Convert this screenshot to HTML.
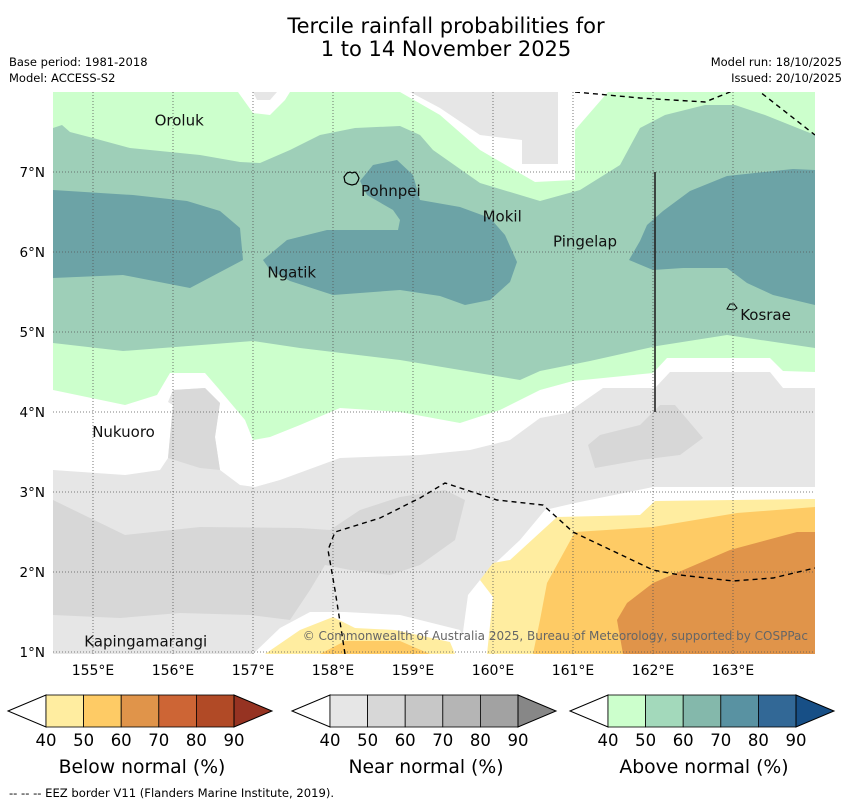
<!DOCTYPE html>
<html><head><meta charset="utf-8"><style>
body{margin:0;background:#fff;width:850px;height:804px;overflow:hidden;font-family:"DejaVu Sans","Liberation Sans",sans-serif}
svg{display:block}
</style></head><body>
<svg id="chart" width="850" height="804" viewBox="0 0 850 804" font-family="DejaVu Sans, Liberation Sans, sans-serif">
<text x="446" y="33" font-size="21" text-anchor="middle">Tercile rainfall probabilities for</text>
<text x="446" y="56" font-size="21" text-anchor="middle">1 to 14 November 2025</text>
<text x="9" y="66" font-size="11.5">Base period: 1981-2018</text>
<text x="9" y="82" font-size="11.5">Model: ACCESS-S2</text>
<text x="842" y="66" font-size="11.5" text-anchor="end">Model run: 18/10/2025</text>
<text x="842" y="82" font-size="11.5" text-anchor="end">Issued: 20/10/2025</text>
<defs><clipPath id="mapclip"><rect x="53" y="92" width="762" height="562"/></clipPath></defs>
<g id="map" clip-path="url(#mapclip)"></g>
<g id="axes"></g>
<g id="bars"></g>
<text x="9" y="797" font-size="11.6">--  --  -- EEZ border V11 (Flanders Marine Institute, 2019).</text>
</svg>
<script>
// Axis data
const lonTicks = [155,156,157,158,159,160,161,162,163];
const latTicks = [1,2,3,4,5,6,7];
const cbLevels = [40,50,60,70,80,90];
const cbTitles = ["Below normal (%)","Near normal (%)","Above normal (%)"];
const cbColors = [
 ["#ffeda0","#fecb65","#e0944a","#cd6535","#b14a26","#963322"],
 ["#e6e6e6","#d7d7d7","#c7c7c7","#b5b5b5","#a2a2a2","#878787"],
 ["#ccffcc","#a3d9bb","#84b8ab","#5992a2","#326896","#174f86"]];
const islandNames = ["Oroluk","Pohnpei","Mokil","Pingelap","Ngatik","Kosrae","Nukuoro","Kapingamarangi"];
const islandLon = [155.77,158.35,159.87,160.75,157.18,163.09,154.99,154.89];
const islandLat = [7.58,6.7,6.38,6.07,5.68,5.15,3.69,1.07];

const X = lon => 93 + (lon-155)*80;
const Y = lat => 652 - (lat-1)*80;
const NS = "http://www.w3.org/2000/svg";
function mk(tag, attrs, parent){const e=document.createElementNS(NS,tag);for(const k in attrs)e.setAttribute(k,attrs[k]);parent.appendChild(e);return e;}
const map=document.getElementById('map');
function poly(pts,fill,name){
  const e=mk('polygon',{points:pts.map(p=>p.join(',')).join(' '),fill:fill},map);
  
  
}
// contour regions (map shapes, pixel outline)
poly([[53,92],[815,92],[815,654],[53,654]],"#e6e6e6","near-normal-40-background");
poly([[53,500],[125,535],[200,527],[300,528],[330,530],[360,510],[400,497],[445,490],[465,500],[455,540],[420,565],[390,575],[350,570],[325,565],[310,590],[290,620],[250,615],[180,613],[120,618],[53,615]],"#d7d7d7","near-normal-50-west");
poly([[588,445],[600,435],[640,425],[660,405],[675,405],[703,438],[680,455],[640,460],[595,468]],"#d7d7d7","near-normal-50-east");
// white (no dominant) band
poly([[53,92],[815,92],[815,388],[783,388],[770,372],[670,372],[655,388],[603,388],[567,413],[540,418],[510,440],[470,450],[420,455],[340,458],[280,480],[255,487],[240,485],[220,470],[215,437],[220,403],[205,388],[173,390],[168,402],[173,405],[168,458],[160,470],[125,475],[53,470]],"#ffffff","white-band");
poly([[173,390],[205,388],[220,403],[215,437],[220,470],[200,468],[168,458],[173,405]],"#d9d9d9","near-normal-patch");
// above normal 40-50
poly([[53,92],[815,92],[815,372],[783,371],[770,358],[667,358],[653,373],[573,381],[540,390],[500,410],[460,423],[400,412],[340,408],[300,425],[270,437],[253,440],[245,420],[218,388],[205,373],[170,373],[157,395],[125,405],[53,390]],"#ccffcc","above-normal-40");
// top gray patches with white halo
poly([[400,92],[608,92],[575,130],[575,180],[535,182],[480,150],[440,115]],"#ffffff","white-top");
poly([[410,92],[558,92],[558,164],[522,164],[522,140],[480,135],[440,108]],"#e6e6e6","near-normal-top");
poly([[238,92],[290,92],[285,100],[270,115],[253,113]],"#ffffff","white-top-left");
poly([[253,92],[277,92],[270,100],[257,100]],"#e6e6e6","near-normal-top-left");
// above normal 50-60
poly([[53,128],[62,125],[70,132],[93,138],[130,148],[200,155],[240,162],[260,163],[290,150],[320,135],[355,128],[400,126],[420,135],[433,150],[480,183],[540,201],[580,190],[620,165],[640,128],[665,115],[705,105],[735,105],[765,115],[815,135],[815,348],[727,335],[657,346],[590,361],[540,371],[520,380],[400,360],[300,348],[253,341],[123,351],[53,343]],"#9ecfb8","above-normal-50");
// above normal 60-70
poly([[53,190],[133,195],[187,201],[220,211],[240,228],[243,260],[190,288],[123,275],[53,278]],"#6ca3a6","above-normal-60-west");
poly([[263,260],[287,240],[327,230],[398,230],[400,220],[393,210],[367,195],[360,181],[373,165],[397,160],[413,175],[420,200],[460,207],[490,218],[505,235],[517,262],[510,282],[490,300],[465,305],[440,296],[400,290],[333,295],[290,281],[270,270]],"#6ca3a6","above-normal-60-central");
poly([[629,260],[640,241],[647,225],[663,211],[690,191],[727,176],[793,169],[815,170],[815,305],[773,295],[747,283],[727,268],[683,268],[653,270]],"#6ca3a6","above-normal-60-east");
// below normal
poly([[460,654],[468,595],[488,570],[520,540],[545,510],[575,503],[653,487],[815,487],[815,654]],"#ffffff","white-south-east");
poly([[253,654],[280,628],[310,612],[345,612],[400,615],[460,630],[470,654]],"#ffffff","white-south");
poly([[487,654],[493,597],[480,580],[493,563],[510,560],[557,517],[640,515],[655,501],[815,499],[815,654]],"#ffeda0","below-normal-40-east");
poly([[265,654],[300,630],[333,617],[355,628],[395,630],[450,642],[455,654]],"#ffeda0","below-normal-40-south");
poly([[533,654],[540,620],[547,583],[575,532],[653,527],[737,513],[815,507],[815,654]],"#fecb65","below-normal-50-east");
poly([[320,654],[345,641],[400,641],[430,654]],"#fecb65","below-normal-50-south");
poly([[623,654],[617,620],[627,603],[653,583],[730,550],[797,532],[815,532],[815,654]],"#e0944a","below-normal-60");
// gridlines
lonTicks.forEach(v=>{const l=mk('line',{x1:X(v),x2:X(v),y1:92,y2:654,stroke:"#555","stroke-width":0.8,"stroke-dasharray":"1,2"},map);

});
latTicks.forEach(v=>{const l=mk('line',{x1:53,x2:815,y1:Y(v),y2:Y(v),stroke:"#555","stroke-width":0.8,"stroke-dasharray":"1,2"},map);

});
// EEZ borders
function dash(pts,name){const e=mk('polyline',{points:pts.map(p=>p.join(',')).join(' '),fill:"none",stroke:"#000","stroke-width":1.4,"stroke-dasharray":"5,4"},map);

}
dash([[575,92],[640,98],[705,102],[740,88]],"eez-border-north");
dash([[755,88],[815,135]],"eez-border-north-east");
dash([[345,654],[335,590],[328,550],[335,532],[380,518],[420,498],[445,483],[497,500],[543,505],[573,532],[653,570],[680,575],[733,581],[773,578],[815,568]],"eez-border-south");
const vl=mk('line',{x1:655,x2:655,y1:172,y2:412,stroke:"#222","stroke-width":1.6},map);


// islands
const pn=mk('path',{d:"M344,177 l3,-4 3,-1 2,1 3,-1 2,2 2,4 -1,3 -2,3 -4,1 -4,-1 -3,-2 z",fill:"none",stroke:"#000","stroke-width":1.2},map);


const ks=mk('path',{d:"M727,309 l3,-5 4,0 3,4 -3,2 z",fill:"none",stroke:"#000","stroke-width":1},map);


islandNames.forEach((n,i)=>{const t=mk('text',{x:X(islandLon[i]),y:Y(islandLat[i]),"font-size":15,fill:"#111"},map);t.textContent=n;

});
const cp=mk('text',{x:808,y:640,"font-size":12,fill:"#666","text-anchor":"end"},map);
cp.textContent="© Commonwealth of Australia 2025, Bureau of Meteorology, supported by COSPPac";


// tick labels
const ax=document.getElementById('axes');
lonTicks.forEach(v=>{const t=mk('text',{x:X(v),y:675,"font-size":14,"text-anchor":"middle"},ax);t.textContent=v+"°E";

});
latTicks.forEach(v=>{const t=mk('text',{x:45,y:Y(v)+5,"font-size":13.5,"text-anchor":"end"},ax);t.textContent=v+"°N";

});
// colorbars
const bars=document.getElementById('bars');
const starts=[8,292,570];
starts.forEach((s,b)=>{
  const g=mk('g',{},bars);
  
  
  const x0=s+38, w=37.6, y0=695, h=32;
  mk('polygon',{points:`${s},${y0+h/2} ${x0},${y0} ${x0},${y0+h}`,fill:"#fff",stroke:"#000","stroke-width":1},g);
  for(let i=0;i<cbLevels.length-1;i++){
    mk('rect',{x:x0+i*w,y:y0,width:w,height:h,fill:cbColors[b][i],stroke:"#000","stroke-width":0.8},g);
  }
  const xe=x0+(cbLevels.length-1)*w;
  mk('polygon',{points:`${xe},${y0} ${xe+38},${y0+h/2} ${xe},${y0+h}`,fill:cbColors[b][5],stroke:"#000","stroke-width":1},g);
  cbLevels.forEach((v,i)=>{const t=mk('text',{x:x0+i*w,y:746,"font-size":16.5,"text-anchor":"middle"},g);t.textContent=v;
  
  });
  const t=mk('text',{x:x0+w*2.5+2,y:773,"font-size":18.8,"text-anchor":"middle"},g);t.textContent=cbTitles[b];
  
  
});
</script>
</body></html>
